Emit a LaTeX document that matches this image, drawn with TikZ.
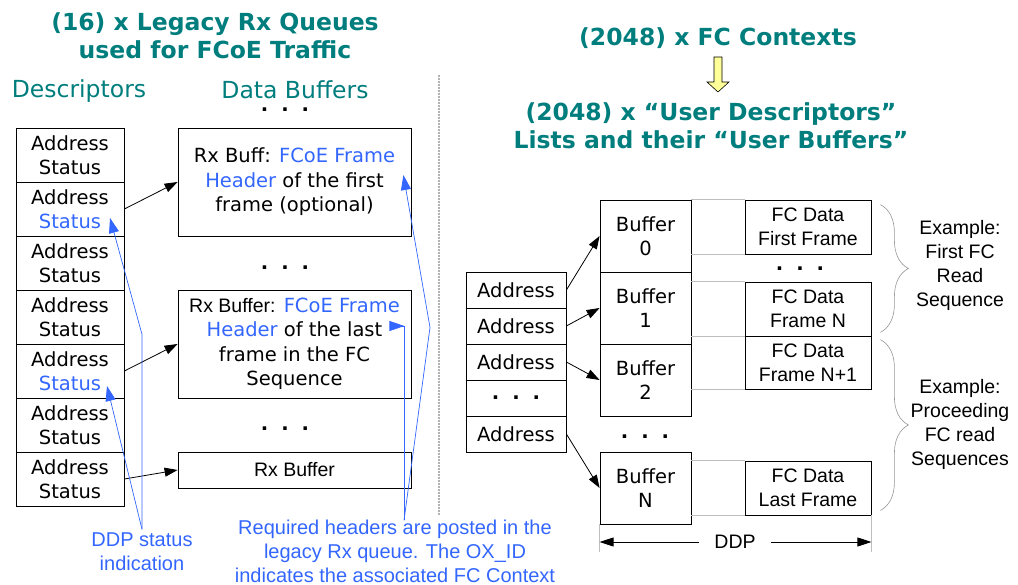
\documentclass[tikz,border=0pt]{standalone}
\usepackage{fontspec}
\setmainfont{DejaVu Sans}
\newfontfamily\arialf{Liberation Sans}
\usepackage{tikz}
\usetikzlibrary{arrows.meta,calc,decorations.pathreplacing}
\definecolor{clrT}{RGB}{0,125,125}
\definecolor{clrBl}{RGB}{51,102,255}
\definecolor{clrGd}{RGB}{190,190,190}
\definecolor{clrBr}{RGB}{150,150,150}
\definecolor{bgY}{RGB}{255,255,153}
\newcommand{\dotsrow}{\textbf{.}\hspace{13pt}\textbf{.}\hspace{13pt}\textbf{.}}
\tikzset{
  title/.style={font=\fontsize{23.5}{28}\selectfont\bfseries,text=clrT,align=center},
  head/.style={font=\fontsize{23.5}{28}\selectfont,text=clrT},
  body/.style={font=\fontsize{19.5}{24}\selectfont},
  desc/.style={body,draw,line width=0.8pt,minimum width=108pt,minimum height=54pt,
    inner sep=0pt,align=center},
  rxbuf/.style={draw,line width=0.8pt,minimum width=233pt,inner sep=0pt,align=center,
    font=\fontsize{19.5}{24.5}\selectfont},
  addr/.style={body,draw,line width=0.8pt,minimum width=100pt,minimum height=36pt,inner sep=0pt},
  ubuf/.style={body,draw,line width=0.8pt,minimum width=91pt,minimum height=72pt,
    inner sep=0pt,align=center},
  fcbox/.style={draw,line width=0.8pt,minimum width=126pt,minimum height=54pt,inner sep=0pt,
    align=center,font=\arialf\fontsize{19.5}{24}\selectfont},
  note/.style={font=\arialf\fontsize{19.5}{24}\selectfont,align=center},
  hint/.style={font=\arialf\fontsize{20}{24}\selectfont,align=center,text=clrBl,inner sep=3pt},
  conn/.style={-{Triangle[length=13pt,width=9pt]},line width=0.8pt},
  bconn/.style={-{Triangle[length=15pt,width=10pt]},clrBl,line width=0.7pt},
  guide/.style={clrGd,line width=0.8pt}
}
\begin{document}
\begin{tikzpicture}[x=1pt,y=-1pt]
  \useasboundingbox (0,0) rectangle (1018,585);
  % left half: legacy rx queues
  \node[title] (tq) at (215,36) {(16) x Legacy Rx Queues\\used for FCoE Traffic};
  \node[head] (hd) at (79,91) {Descriptors};
  \node[head] (hb) at (295,90) {Data Buffers};
  \node[body,inner sep=0pt] (dt0) at (285,110) {\dotsrow};
  \foreach \i/\sc in {1/black,2/clrBl,3/black,4/black,5/clrBl,6/black,7/black}
    \node[desc] (d\i) at (70,{155+54*(\i-1)}) {Address\\\textcolor{\sc}{Status}};
  \node[rxbuf,minimum height=108pt] (b1) at (294.5,182)
    {Rx Buff: \textcolor{clrBl}{FCoE Frame}\\\textcolor{clrBl}{Header} of the first\\frame (optional)};
  \node[body] (dt1) at (285,268) {\dotsrow};
  \node[rxbuf,minimum height=108pt] (b2) at (294.5,344)
    {{\arialf Rx Buffer:} \textcolor{clrBl}{FCoE Frame}\\\textcolor{clrBl}{Header} of the last\\frame in the FC\\Sequence};
  \node[body] (dt2) at (285,429) {\dotsrow};
  \node[rxbuf,minimum height=36pt,font=\arialf\fontsize{19.5}{24}\selectfont] (b3) at (294.5,470) {Rx Buffer};
  \draw[conn] (d2.east) -- (b1.west);
  \draw[conn] (d5.east) -- (b2.west);
  \draw[conn] (d7.east) -- (b3.west);
  % blue remarks
  \node[hint] (ddp) at (142,551.5) {DDP status\\indication};
  \node[hint] (req) at (395,551) {Required headers are posted in the\\legacy Rx queue. The OX\_ID\\indicates the associated FC Context};
  \coordinate (s2) at ($(d2.center)+(40,9)$);
  \coordinate (s5) at ($(d5.center)+(37,15)$);
  \coordinate (h1) at ($(b1.east)+(-8,-7)$);
  \coordinate (h2) at ($(b2.east)+(-7,-18)$);
  \coordinate (reqS) at ($(req.north)+(9,4)$);
  \draw[bconn] (ddp.north) -- ++(0,-195) -- (s2);
  \draw[bconn] (ddp.north) -- (s5);
  \draw[bconn] (reqS) -- (reqS |- h2) -- (h2);
  \draw[bconn] (reqS) -- ++(26,-193) -- (h1);
  % separator
  \draw[gray!60,line width=1.5pt,dash pattern=on 2pt off 1pt] (439,75) -- (439,515);
  % right half: fc contexts
  \node[title] (tc) at (718,38) {(2048) x FC Contexts};
  \node[title] (tu) at (711,126) {(2048) x “User Descriptors”\\Lists and their “User Buffers”};
  \draw[line width=0.6pt,fill=bgY] (714,57) -- (722,57) -- (722,82) -- (729,82) -- (718,92)
    -- (707,82) -- (714,82) -- cycle;
  \foreach \i/\t in {1/Address,2/Address,3/Address,4/{\dotsrow},5/Address}
    \node[addr] (a\i) at (516,{290+36*(\i-1)}) {\t};
  \foreach \i/\y in {0/236,1/308,2/380,N/488}
    \node[ubuf] (buf\i) at (645.5,\y) {Buffer\\\i};
  \node[body] (dt3) at (645,437) {\dotsrow};
  \draw[conn] (a1.east) -- (buf0.west);
  \draw[conn] (a2.east) -- (buf1.west);
  \draw[conn] (a3.east) -- (buf2.west);
  \draw[conn] (a5.east) -- (bufN.west);
  \node[fcbox] (fc1) at (808,227) {FC Data\\First Frame};
  \node[fcbox] (fc2) at (808,309) {FC Data\\Frame N};
  \node[fcbox,minimum height=53pt] (fc3) at (808,362.5) {FC Data\\Frame N+1};
  \node[fcbox] (fc4) at (808,488) {FC Data\\Last Frame};
  \node[body] (dt4) at (800,269) {\dotsrow};
  \draw[guide] (buf0.north east) -- (fc1.north west);
  \draw[guide] (buf0.east |- fc1.south) -- (fc1.south west);
  \draw[guide] (buf1.east |- fc2.north) -- (fc2.north west);
  \draw[guide] (buf1.east |- fc2.south) -- (fc2.south west);
  \draw[guide] (buf2.east |- fc3.south) -- (fc3.south west);
  \draw[guide] (bufN.east |- fc4.north) -- (fc4.north west);
  \draw[guide] (bufN.east |- fc4.south) -- (fc4.south west);
  % read sequences
  \draw[clrBr,line width=0.6pt,decorate,decoration={brace,amplitude=28pt}]
    ($(fc1.north east)+(9,5)$) -- ($(fc2.south east)+(9,-4)$);
  \draw[clrBr,line width=0.6pt,decorate,decoration={brace,amplitude=28pt}]
    ($(fc3.north east)+(9,4)$) -- ($(fc4.south east)+(9,-5)$);
  \node[note] (ex1) at (960,265) {Example:\\First FC\\Read\\Sequence};
  \node[note] (ex2) at (960,424) {Example:\\Proceeding\\FC read\\Sequences};
  % ddp span
  \node[note,inner xsep=15pt] (span) at (735,542) {DDP};
  \draw[guide] (bufN.south west) -- ++(0,28);
  \draw[guide] (fc4.south east) -- ++(0,37);
  \draw[{Triangle[length=14pt,width=9pt]}-,line width=0.8pt] (bufN.south west |- span.west) -- (span.west);
  \draw[-{Triangle[length=14pt,width=9pt]},line width=0.8pt] (span.east) -- (fc4.south east |- span.east);
\end{tikzpicture}
\end{document}
